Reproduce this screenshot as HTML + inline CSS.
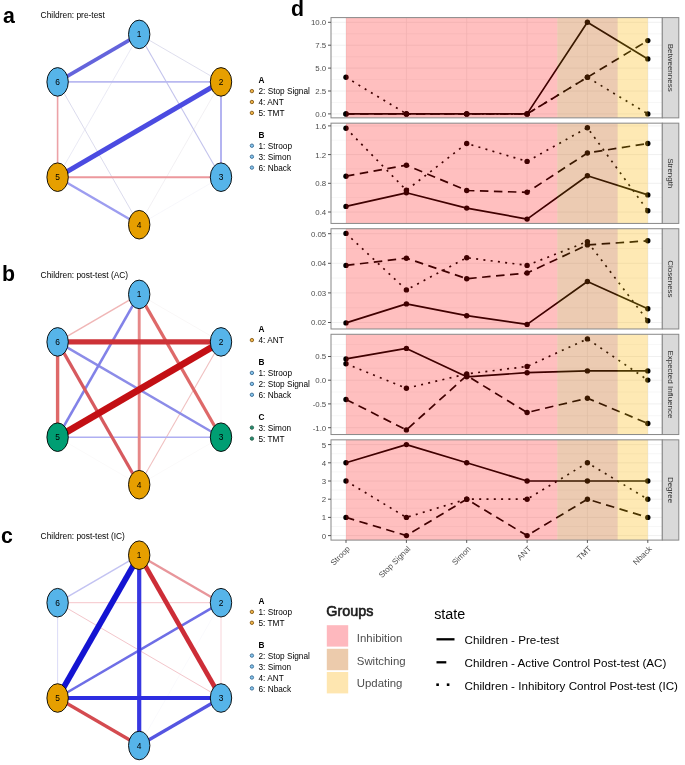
<!DOCTYPE html>
<html><head><meta charset="utf-8"><title>Figure</title>
<style>
html,body{margin:0;padding:0;background:#fff;}
body{width:685px;height:765px;overflow:hidden;}
svg{display:block;font-family:"Liberation Sans", sans-serif;will-change:transform;}
</style></head><body>
<svg width="685" height="765" viewBox="0 0 685 765">
<rect width="685" height="765" fill="#fff"/>
<text x="3.0" y="23.0" font-size="21.3" font-weight="bold" fill="#000">a</text>
<text x="40.6" y="17.7" font-size="8.4" fill="#000">Children: pre-test</text>
<line x1="221.0" y1="177.2" x2="139.2" y2="224.7" stroke="rgb(242,242,248)" stroke-width="0.6"/>
<line x1="221.0" y1="81.9" x2="139.2" y2="224.7" stroke="rgb(236,234,238)" stroke-width="0.7"/>
<line x1="139.2" y1="34.4" x2="57.6" y2="177.2" stroke="rgb(228,228,242)" stroke-width="0.8"/>
<line x1="139.2" y1="34.4" x2="221.0" y2="81.9" stroke="rgb(218,218,235)" stroke-width="0.9"/>
<line x1="57.6" y1="81.9" x2="139.2" y2="224.7" stroke="rgb(215,215,235)" stroke-width="0.9"/>
<line x1="139.2" y1="34.4" x2="221.0" y2="177.2" stroke="rgb(195,195,236)" stroke-width="1.1"/>
<line x1="57.6" y1="81.9" x2="221.0" y2="81.9" stroke="rgb(185,185,240)" stroke-width="1.6"/>
<line x1="57.6" y1="81.9" x2="57.6" y2="177.2" stroke="rgb(236,162,167)" stroke-width="1.6"/>
<line x1="221.0" y1="81.9" x2="221.0" y2="177.2" stroke="rgb(172,172,240)" stroke-width="1.8"/>
<line x1="57.6" y1="177.2" x2="221.0" y2="177.2" stroke="rgb(236,152,157)" stroke-width="2.1"/>
<line x1="57.6" y1="177.2" x2="139.2" y2="224.7" stroke="rgb(157,157,240)" stroke-width="2.4"/>
<line x1="139.2" y1="34.4" x2="57.6" y2="81.9" stroke="rgb(100,100,220)" stroke-width="3.7"/>
<line x1="221.0" y1="81.9" x2="57.6" y2="177.2" stroke="rgb(75,75,225)" stroke-width="5.0"/>
<ellipse cx="139.2" cy="34.4" rx="10.7" ry="14.3" fill="#56B4E9" stroke="#000" stroke-width="0.9"/>
<text x="139.2" y="37.4" font-size="8.4" text-anchor="middle" fill="#000">1</text>
<ellipse cx="221.0" cy="81.9" rx="10.7" ry="14.3" fill="#E69F00" stroke="#000" stroke-width="0.9"/>
<text x="221.0" y="84.9" font-size="8.4" text-anchor="middle" fill="#000">2</text>
<ellipse cx="221.0" cy="177.2" rx="10.7" ry="14.3" fill="#56B4E9" stroke="#000" stroke-width="0.9"/>
<text x="221.0" y="180.2" font-size="8.4" text-anchor="middle" fill="#000">3</text>
<ellipse cx="139.2" cy="224.7" rx="10.7" ry="14.3" fill="#E69F00" stroke="#000" stroke-width="0.9"/>
<text x="139.2" y="227.7" font-size="8.4" text-anchor="middle" fill="#000">4</text>
<ellipse cx="57.6" cy="177.2" rx="10.7" ry="14.3" fill="#E69F00" stroke="#000" stroke-width="0.9"/>
<text x="57.6" y="180.2" font-size="8.4" text-anchor="middle" fill="#000">5</text>
<ellipse cx="57.6" cy="81.9" rx="10.7" ry="14.3" fill="#56B4E9" stroke="#000" stroke-width="0.9"/>
<text x="57.6" y="84.9" font-size="8.4" text-anchor="middle" fill="#000">6</text>
<text x="258.5" y="83.3" font-size="8.25" font-weight="bold" fill="#000">A</text>
<circle cx="251.9" cy="91.1" r="1.7" fill="#f0b548" stroke="#8a5f1c" stroke-width="0.95"/>
<text x="258.5" y="94.3" font-size="8.25" fill="#000">2: Stop Signal</text>
<circle cx="251.9" cy="102.0" r="1.7" fill="#f0b548" stroke="#8a5f1c" stroke-width="0.95"/>
<text x="258.5" y="105.2" font-size="8.25" fill="#000">4: ANT</text>
<circle cx="251.9" cy="112.9" r="1.7" fill="#f0b548" stroke="#8a5f1c" stroke-width="0.95"/>
<text x="258.5" y="116.1" font-size="8.25" fill="#000">5: TMT</text>
<text x="258.5" y="138.0" font-size="8.25" font-weight="bold" fill="#000">B</text>
<circle cx="251.9" cy="145.7" r="1.7" fill="#86c6ee" stroke="#3f6f96" stroke-width="0.95"/>
<text x="258.5" y="148.9" font-size="8.25" fill="#000">1: Stroop</text>
<circle cx="251.9" cy="156.7" r="1.7" fill="#86c6ee" stroke="#3f6f96" stroke-width="0.95"/>
<text x="258.5" y="159.9" font-size="8.25" fill="#000">3: Simon</text>
<circle cx="251.9" cy="167.6" r="1.7" fill="#86c6ee" stroke="#3f6f96" stroke-width="0.95"/>
<text x="258.5" y="170.8" font-size="8.25" fill="#000">6: Nback</text>
<text x="1.9" y="281.0" font-size="21.3" font-weight="bold" fill="#000">b</text>
<text x="40.6" y="277.7" font-size="8.4" fill="#000">Children: post-test (AC)</text>
<line x1="139.2" y1="294.4" x2="221.0" y2="341.9" stroke="rgb(242,238,238)" stroke-width="0.5"/>
<line x1="221.0" y1="341.9" x2="221.0" y2="437.2" stroke="rgb(245,242,245)" stroke-width="0.5"/>
<line x1="57.6" y1="437.2" x2="139.2" y2="484.7" stroke="rgb(246,244,244)" stroke-width="0.5"/>
<line x1="221.0" y1="437.2" x2="139.2" y2="484.7" stroke="rgb(246,244,244)" stroke-width="0.5"/>
<line x1="221.0" y1="341.9" x2="139.2" y2="484.7" stroke="rgb(240,192,192)" stroke-width="1.1"/>
<line x1="139.2" y1="294.4" x2="57.6" y2="341.9" stroke="rgb(240,182,182)" stroke-width="1.5"/>
<line x1="57.6" y1="437.2" x2="221.0" y2="437.2" stroke="rgb(175,175,242)" stroke-width="1.6"/>
<line x1="57.6" y1="341.9" x2="221.0" y2="437.2" stroke="rgb(140,140,232)" stroke-width="2.4"/>
<line x1="139.2" y1="294.4" x2="57.6" y2="437.2" stroke="rgb(130,130,232)" stroke-width="2.6"/>
<line x1="139.2" y1="294.4" x2="139.2" y2="484.7" stroke="rgb(230,135,135)" stroke-width="2.9"/>
<line x1="139.2" y1="294.4" x2="221.0" y2="437.2" stroke="rgb(222,105,105)" stroke-width="3.2"/>
<line x1="57.6" y1="341.9" x2="139.2" y2="484.7" stroke="rgb(215,90,95)" stroke-width="3.2"/>
<line x1="57.6" y1="341.9" x2="57.6" y2="437.2" stroke="rgb(222,105,105)" stroke-width="3.4"/>
<line x1="57.6" y1="341.9" x2="221.0" y2="341.9" stroke="rgb(205,50,55)" stroke-width="5.3"/>
<line x1="221.0" y1="341.9" x2="57.6" y2="437.2" stroke="rgb(195,15,20)" stroke-width="6.8"/>
<ellipse cx="139.2" cy="294.4" rx="10.7" ry="14.3" fill="#56B4E9" stroke="#000" stroke-width="0.9"/>
<text x="139.2" y="297.4" font-size="8.4" text-anchor="middle" fill="#000">1</text>
<ellipse cx="221.0" cy="341.9" rx="10.7" ry="14.3" fill="#56B4E9" stroke="#000" stroke-width="0.9"/>
<text x="221.0" y="344.9" font-size="8.4" text-anchor="middle" fill="#000">2</text>
<ellipse cx="221.0" cy="437.2" rx="10.7" ry="14.3" fill="#009E73" stroke="#000" stroke-width="0.9"/>
<text x="221.0" y="440.2" font-size="8.4" text-anchor="middle" fill="#000">3</text>
<ellipse cx="139.2" cy="484.7" rx="10.7" ry="14.3" fill="#E69F00" stroke="#000" stroke-width="0.9"/>
<text x="139.2" y="487.7" font-size="8.4" text-anchor="middle" fill="#000">4</text>
<ellipse cx="57.6" cy="437.2" rx="10.7" ry="14.3" fill="#009E73" stroke="#000" stroke-width="0.9"/>
<text x="57.6" y="440.2" font-size="8.4" text-anchor="middle" fill="#000">5</text>
<ellipse cx="57.6" cy="341.9" rx="10.7" ry="14.3" fill="#56B4E9" stroke="#000" stroke-width="0.9"/>
<text x="57.6" y="344.9" font-size="8.4" text-anchor="middle" fill="#000">6</text>
<text x="258.5" y="332.4" font-size="8.25" font-weight="bold" fill="#000">A</text>
<circle cx="251.9" cy="340.1" r="1.7" fill="#f0b548" stroke="#8a5f1c" stroke-width="0.95"/>
<text x="258.5" y="343.3" font-size="8.25" fill="#000">4: ANT</text>
<text x="258.5" y="365.2" font-size="8.25" font-weight="bold" fill="#000">B</text>
<circle cx="251.9" cy="372.9" r="1.7" fill="#86c6ee" stroke="#3f6f96" stroke-width="0.95"/>
<text x="258.5" y="376.1" font-size="8.25" fill="#000">1: Stroop</text>
<circle cx="251.9" cy="383.9" r="1.7" fill="#86c6ee" stroke="#3f6f96" stroke-width="0.95"/>
<text x="258.5" y="387.1" font-size="8.25" fill="#000">2: Stop Signal</text>
<circle cx="251.9" cy="394.8" r="1.7" fill="#86c6ee" stroke="#3f6f96" stroke-width="0.95"/>
<text x="258.5" y="398.0" font-size="8.25" fill="#000">6: Nback</text>
<text x="258.5" y="419.9" font-size="8.25" font-weight="bold" fill="#000">C</text>
<circle cx="251.9" cy="427.6" r="1.7" fill="#1f9070" stroke="#2b5f4c" stroke-width="0.95"/>
<text x="258.5" y="430.8" font-size="8.25" fill="#000">3: Simon</text>
<circle cx="251.9" cy="438.6" r="1.7" fill="#1f9070" stroke="#2b5f4c" stroke-width="0.95"/>
<text x="258.5" y="441.8" font-size="8.25" fill="#000">5: TMT</text>
<text x="1.0" y="543.4" font-size="21.3" font-weight="bold" fill="#000">c</text>
<text x="40.6" y="538.5" font-size="8.4" fill="#000">Children: post-test (IC)</text>
<line x1="221.0" y1="602.7" x2="139.2" y2="745.5" stroke="rgb(245,245,250)" stroke-width="0.5"/>
<line x1="221.0" y1="602.7" x2="221.0" y2="698.0" stroke="rgb(247,208,214)" stroke-width="0.9"/>
<line x1="57.6" y1="602.7" x2="57.6" y2="698.0" stroke="rgb(216,216,246)" stroke-width="0.9"/>
<line x1="57.6" y1="602.7" x2="221.0" y2="602.7" stroke="rgb(246,198,203)" stroke-width="1.0"/>
<line x1="57.6" y1="602.7" x2="221.0" y2="698.0" stroke="rgb(243,198,203)" stroke-width="1.0"/>
<line x1="139.2" y1="555.2" x2="57.6" y2="602.7" stroke="rgb(195,195,242)" stroke-width="1.5"/>
<line x1="139.2" y1="555.2" x2="221.0" y2="602.7" stroke="rgb(232,150,155)" stroke-width="2.3"/>
<line x1="221.0" y1="602.7" x2="57.6" y2="698.0" stroke="rgb(110,110,230)" stroke-width="2.6"/>
<line x1="221.0" y1="698.0" x2="139.2" y2="745.5" stroke="rgb(85,85,225)" stroke-width="3.2"/>
<line x1="57.6" y1="698.0" x2="139.2" y2="745.5" stroke="rgb(212,75,80)" stroke-width="3.2"/>
<line x1="139.2" y1="555.2" x2="139.2" y2="745.5" stroke="rgb(55,55,225)" stroke-width="4.2"/>
<line x1="57.6" y1="698.0" x2="221.0" y2="698.0" stroke="rgb(45,45,225)" stroke-width="4.2"/>
<line x1="139.2" y1="555.2" x2="221.0" y2="698.0" stroke="rgb(205,45,55)" stroke-width="4.7"/>
<line x1="139.2" y1="555.2" x2="57.6" y2="698.0" stroke="rgb(20,20,210)" stroke-width="5.8"/>
<ellipse cx="139.2" cy="555.2" rx="10.7" ry="14.3" fill="#E69F00" stroke="#000" stroke-width="0.9"/>
<text x="139.2" y="558.2" font-size="8.4" text-anchor="middle" fill="#000">1</text>
<ellipse cx="221.0" cy="602.7" rx="10.7" ry="14.3" fill="#56B4E9" stroke="#000" stroke-width="0.9"/>
<text x="221.0" y="605.7" font-size="8.4" text-anchor="middle" fill="#000">2</text>
<ellipse cx="221.0" cy="698.0" rx="10.7" ry="14.3" fill="#56B4E9" stroke="#000" stroke-width="0.9"/>
<text x="221.0" y="701.0" font-size="8.4" text-anchor="middle" fill="#000">3</text>
<ellipse cx="139.2" cy="745.5" rx="10.7" ry="14.3" fill="#56B4E9" stroke="#000" stroke-width="0.9"/>
<text x="139.2" y="748.5" font-size="8.4" text-anchor="middle" fill="#000">4</text>
<ellipse cx="57.6" cy="698.0" rx="10.7" ry="14.3" fill="#E69F00" stroke="#000" stroke-width="0.9"/>
<text x="57.6" y="701.0" font-size="8.4" text-anchor="middle" fill="#000">5</text>
<ellipse cx="57.6" cy="602.7" rx="10.7" ry="14.3" fill="#56B4E9" stroke="#000" stroke-width="0.9"/>
<text x="57.6" y="605.7" font-size="8.4" text-anchor="middle" fill="#000">6</text>
<text x="258.5" y="604.0999999999999" font-size="8.25" font-weight="bold" fill="#000">A</text>
<circle cx="251.9" cy="611.9" r="1.7" fill="#f0b548" stroke="#8a5f1c" stroke-width="0.95"/>
<text x="258.5" y="615.0999999999999" font-size="8.25" fill="#000">1: Stroop</text>
<circle cx="251.9" cy="622.8" r="1.7" fill="#f0b548" stroke="#8a5f1c" stroke-width="0.95"/>
<text x="258.5" y="626.0" font-size="8.25" fill="#000">5: TMT</text>
<text x="258.5" y="647.9" font-size="8.25" font-weight="bold" fill="#000">B</text>
<circle cx="251.9" cy="655.6" r="1.7" fill="#86c6ee" stroke="#3f6f96" stroke-width="0.95"/>
<text x="258.5" y="658.8" font-size="8.25" fill="#000">2: Stop Signal</text>
<circle cx="251.9" cy="666.5" r="1.7" fill="#86c6ee" stroke="#3f6f96" stroke-width="0.95"/>
<text x="258.5" y="669.6999999999999" font-size="8.25" fill="#000">3: Simon</text>
<circle cx="251.9" cy="677.5" r="1.7" fill="#86c6ee" stroke="#3f6f96" stroke-width="0.95"/>
<text x="258.5" y="680.6999999999999" font-size="8.25" fill="#000">4: ANT</text>
<circle cx="251.9" cy="688.4" r="1.7" fill="#86c6ee" stroke="#3f6f96" stroke-width="0.95"/>
<text x="258.5" y="691.5999999999999" font-size="8.25" fill="#000">6: Nback</text>
<text x="290.9" y="16.2" font-size="21.3" font-weight="bold" fill="#000">d</text>
<clipPath id="cBet"><rect x="331.0" y="17.60" width="331.30" height="100.26"/></clipPath>
<g clip-path="url(#cBet)">
<line x1="331.0" x2="662.3" y1="33.8" y2="33.8" stroke="#EBEBEB" stroke-width="0.4"/>
<line x1="331.0" x2="662.3" y1="56.7" y2="56.7" stroke="#EBEBEB" stroke-width="0.4"/>
<line x1="331.0" x2="662.3" y1="79.6" y2="79.6" stroke="#EBEBEB" stroke-width="0.4"/>
<line x1="331.0" x2="662.3" y1="102.5" y2="102.5" stroke="#EBEBEB" stroke-width="0.4"/>
<line x1="331.0" x2="662.3" y1="22.3" y2="22.3" stroke="#EBEBEB" stroke-width="0.75"/>
<line x1="331.0" x2="662.3" y1="45.2" y2="45.2" stroke="#EBEBEB" stroke-width="0.75"/>
<line x1="331.0" x2="662.3" y1="68.1" y2="68.1" stroke="#EBEBEB" stroke-width="0.75"/>
<line x1="331.0" x2="662.3" y1="91.0" y2="91.0" stroke="#EBEBEB" stroke-width="0.75"/>
<line x1="331.0" x2="662.3" y1="113.9" y2="113.9" stroke="#EBEBEB" stroke-width="0.75"/>
<line x1="346.0" x2="346.0" y1="17.6" y2="117.9" stroke="#EBEBEB" stroke-width="0.75"/>
<line x1="406.4" x2="406.4" y1="17.6" y2="117.9" stroke="#EBEBEB" stroke-width="0.75"/>
<line x1="466.7" x2="466.7" y1="17.6" y2="117.9" stroke="#EBEBEB" stroke-width="0.75"/>
<line x1="527.1" x2="527.1" y1="17.6" y2="117.9" stroke="#EBEBEB" stroke-width="0.75"/>
<line x1="587.4" x2="587.4" y1="17.6" y2="117.9" stroke="#EBEBEB" stroke-width="0.75"/>
<line x1="647.8" x2="647.8" y1="17.6" y2="117.9" stroke="#EBEBEB" stroke-width="0.75"/>
<polyline points="346.0,113.9 406.4,113.9 466.7,113.9 527.1,113.9 587.4,22.3 647.8,58.9" fill="none" stroke="#000" stroke-width="1.7" stroke-linejoin="round"/>
<polyline points="346.0,113.9 406.4,113.9 466.7,113.9 527.1,113.9 587.4,77.3 647.8,40.6" fill="none" stroke="#000" stroke-width="1.7" stroke-dasharray="8.5 5.5" stroke-linejoin="round"/>
<polyline points="346.0,77.3 406.4,113.9 466.7,113.9 527.1,113.9 587.4,77.3 647.8,113.9" fill="none" stroke="#000" stroke-width="1.7" stroke-dasharray="2 5.3" stroke-linejoin="round"/>
</g>
<circle cx="346.0" cy="113.9" r="2.7" fill="#000"/>
<circle cx="406.4" cy="113.9" r="2.7" fill="#000"/>
<circle cx="466.7" cy="113.9" r="2.7" fill="#000"/>
<circle cx="527.1" cy="113.9" r="2.7" fill="#000"/>
<circle cx="587.4" cy="22.3" r="2.7" fill="#000"/>
<circle cx="647.8" cy="58.9" r="2.7" fill="#000"/>
<circle cx="346.0" cy="113.9" r="2.7" fill="#000"/>
<circle cx="406.4" cy="113.9" r="2.7" fill="#000"/>
<circle cx="466.7" cy="113.9" r="2.7" fill="#000"/>
<circle cx="527.1" cy="113.9" r="2.7" fill="#000"/>
<circle cx="587.4" cy="77.3" r="2.7" fill="#000"/>
<circle cx="647.8" cy="40.6" r="2.7" fill="#000"/>
<circle cx="346.0" cy="77.3" r="2.7" fill="#000"/>
<circle cx="406.4" cy="113.9" r="2.7" fill="#000"/>
<circle cx="466.7" cy="113.9" r="2.7" fill="#000"/>
<circle cx="527.1" cy="113.9" r="2.7" fill="#000"/>
<circle cx="587.4" cy="77.3" r="2.7" fill="#000"/>
<circle cx="647.8" cy="113.9" r="2.7" fill="#000"/>
<rect x="346.0" y="17.60" width="211.3" height="100.26" fill="rgba(255,0,0,0.25)"/>
<rect x="557.3" y="17.60" width="60.4" height="100.26" fill="rgba(192,82,0,0.30)"/>
<rect x="617.6" y="17.60" width="30.2" height="100.26" fill="rgba(252,182,5,0.30)"/>
<rect x="331.0" y="17.60" width="331.30" height="100.26" fill="none" stroke="#888" stroke-width="1"/>
<rect x="662.3" y="17.60" width="16.50" height="100.26" fill="#D9D9D9" stroke="#888" stroke-width="1"/>
<text transform="translate(667.5,67.7) rotate(90)" text-anchor="middle" font-size="8.0" fill="#333">Betweenness</text>
<line x1="328.0" x2="331.0" y1="22.3" y2="22.3" stroke="#555" stroke-width="1"/>
<text x="326.2" y="25.2" text-anchor="end" font-size="7.85" fill="#4D4D4D">10.0</text>
<line x1="328.0" x2="331.0" y1="45.2" y2="45.2" stroke="#555" stroke-width="1"/>
<text x="326.2" y="48.1" text-anchor="end" font-size="7.85" fill="#4D4D4D">7.5</text>
<line x1="328.0" x2="331.0" y1="68.1" y2="68.1" stroke="#555" stroke-width="1"/>
<text x="326.2" y="71.0" text-anchor="end" font-size="7.85" fill="#4D4D4D">5.0</text>
<line x1="328.0" x2="331.0" y1="91.0" y2="91.0" stroke="#555" stroke-width="1"/>
<text x="326.2" y="93.9" text-anchor="end" font-size="7.85" fill="#4D4D4D">2.5</text>
<line x1="328.0" x2="331.0" y1="113.9" y2="113.9" stroke="#555" stroke-width="1"/>
<text x="326.2" y="116.8" text-anchor="end" font-size="7.85" fill="#4D4D4D">0.0</text>
<clipPath id="cStr"><rect x="331.0" y="123.16" width="331.30" height="100.26"/></clipPath>
<g clip-path="url(#cStr)">
<line x1="331.0" x2="662.3" y1="140.2" y2="140.2" stroke="#EBEBEB" stroke-width="0.4"/>
<line x1="331.0" x2="662.3" y1="168.9" y2="168.9" stroke="#EBEBEB" stroke-width="0.4"/>
<line x1="331.0" x2="662.3" y1="197.6" y2="197.6" stroke="#EBEBEB" stroke-width="0.4"/>
<line x1="331.0" x2="662.3" y1="125.9" y2="125.9" stroke="#EBEBEB" stroke-width="0.75"/>
<line x1="331.0" x2="662.3" y1="154.6" y2="154.6" stroke="#EBEBEB" stroke-width="0.75"/>
<line x1="331.0" x2="662.3" y1="183.3" y2="183.3" stroke="#EBEBEB" stroke-width="0.75"/>
<line x1="331.0" x2="662.3" y1="212.0" y2="212.0" stroke="#EBEBEB" stroke-width="0.75"/>
<line x1="346.0" x2="346.0" y1="123.2" y2="223.4" stroke="#EBEBEB" stroke-width="0.75"/>
<line x1="406.4" x2="406.4" y1="123.2" y2="223.4" stroke="#EBEBEB" stroke-width="0.75"/>
<line x1="466.7" x2="466.7" y1="123.2" y2="223.4" stroke="#EBEBEB" stroke-width="0.75"/>
<line x1="527.1" x2="527.1" y1="123.2" y2="223.4" stroke="#EBEBEB" stroke-width="0.75"/>
<line x1="587.4" x2="587.4" y1="123.2" y2="223.4" stroke="#EBEBEB" stroke-width="0.75"/>
<line x1="647.8" x2="647.8" y1="123.2" y2="223.4" stroke="#EBEBEB" stroke-width="0.75"/>
<polyline points="346.0,206.4 406.4,192.8 466.7,208.1 527.1,219.1 587.4,175.7 647.8,194.9" fill="none" stroke="#000" stroke-width="1.7" stroke-linejoin="round"/>
<polyline points="346.0,176.2 406.4,165.2 466.7,190.5 527.1,192.3 587.4,153.0 647.8,143.5" fill="none" stroke="#000" stroke-width="1.7" stroke-dasharray="8.5 5.5" stroke-linejoin="round"/>
<polyline points="346.0,128.2 406.4,190.3 466.7,143.5 527.1,161.4 587.4,127.7 647.8,210.7" fill="none" stroke="#000" stroke-width="1.7" stroke-dasharray="2 5.3" stroke-linejoin="round"/>
</g>
<circle cx="346.0" cy="206.4" r="2.7" fill="#000"/>
<circle cx="406.4" cy="192.8" r="2.7" fill="#000"/>
<circle cx="466.7" cy="208.1" r="2.7" fill="#000"/>
<circle cx="527.1" cy="219.1" r="2.7" fill="#000"/>
<circle cx="587.4" cy="175.7" r="2.7" fill="#000"/>
<circle cx="647.8" cy="194.9" r="2.7" fill="#000"/>
<circle cx="346.0" cy="176.2" r="2.7" fill="#000"/>
<circle cx="406.4" cy="165.2" r="2.7" fill="#000"/>
<circle cx="466.7" cy="190.5" r="2.7" fill="#000"/>
<circle cx="527.1" cy="192.3" r="2.7" fill="#000"/>
<circle cx="587.4" cy="153.0" r="2.7" fill="#000"/>
<circle cx="647.8" cy="143.5" r="2.7" fill="#000"/>
<circle cx="346.0" cy="128.2" r="2.7" fill="#000"/>
<circle cx="406.4" cy="190.3" r="2.7" fill="#000"/>
<circle cx="466.7" cy="143.5" r="2.7" fill="#000"/>
<circle cx="527.1" cy="161.4" r="2.7" fill="#000"/>
<circle cx="587.4" cy="127.7" r="2.7" fill="#000"/>
<circle cx="647.8" cy="210.7" r="2.7" fill="#000"/>
<rect x="346.0" y="123.16" width="211.3" height="100.26" fill="rgba(255,0,0,0.25)"/>
<rect x="557.3" y="123.16" width="60.4" height="100.26" fill="rgba(192,82,0,0.30)"/>
<rect x="617.6" y="123.16" width="30.2" height="100.26" fill="rgba(252,182,5,0.30)"/>
<rect x="331.0" y="123.16" width="331.30" height="100.26" fill="none" stroke="#888" stroke-width="1"/>
<rect x="662.3" y="123.16" width="16.50" height="100.26" fill="#D9D9D9" stroke="#888" stroke-width="1"/>
<text transform="translate(667.5,173.3) rotate(90)" text-anchor="middle" font-size="8.0" fill="#333">Strength</text>
<line x1="328.0" x2="331.0" y1="125.9" y2="125.9" stroke="#555" stroke-width="1"/>
<text x="326.2" y="128.8" text-anchor="end" font-size="7.85" fill="#4D4D4D">1.6</text>
<line x1="328.0" x2="331.0" y1="154.6" y2="154.6" stroke="#555" stroke-width="1"/>
<text x="326.2" y="157.5" text-anchor="end" font-size="7.85" fill="#4D4D4D">1.2</text>
<line x1="328.0" x2="331.0" y1="183.3" y2="183.3" stroke="#555" stroke-width="1"/>
<text x="326.2" y="186.2" text-anchor="end" font-size="7.85" fill="#4D4D4D">0.8</text>
<line x1="328.0" x2="331.0" y1="212.0" y2="212.0" stroke="#555" stroke-width="1"/>
<text x="326.2" y="214.9" text-anchor="end" font-size="7.85" fill="#4D4D4D">0.4</text>
<clipPath id="cClo"><rect x="331.0" y="228.72" width="331.30" height="100.26"/></clipPath>
<g clip-path="url(#cClo)">
<line x1="331.0" x2="662.3" y1="248.5" y2="248.5" stroke="#EBEBEB" stroke-width="0.4"/>
<line x1="331.0" x2="662.3" y1="278.1" y2="278.1" stroke="#EBEBEB" stroke-width="0.4"/>
<line x1="331.0" x2="662.3" y1="307.7" y2="307.7" stroke="#EBEBEB" stroke-width="0.4"/>
<line x1="331.0" x2="662.3" y1="233.7" y2="233.7" stroke="#EBEBEB" stroke-width="0.75"/>
<line x1="331.0" x2="662.3" y1="263.3" y2="263.3" stroke="#EBEBEB" stroke-width="0.75"/>
<line x1="331.0" x2="662.3" y1="292.9" y2="292.9" stroke="#EBEBEB" stroke-width="0.75"/>
<line x1="331.0" x2="662.3" y1="322.5" y2="322.5" stroke="#EBEBEB" stroke-width="0.75"/>
<line x1="346.0" x2="346.0" y1="228.7" y2="329.0" stroke="#EBEBEB" stroke-width="0.75"/>
<line x1="406.4" x2="406.4" y1="228.7" y2="329.0" stroke="#EBEBEB" stroke-width="0.75"/>
<line x1="466.7" x2="466.7" y1="228.7" y2="329.0" stroke="#EBEBEB" stroke-width="0.75"/>
<line x1="527.1" x2="527.1" y1="228.7" y2="329.0" stroke="#EBEBEB" stroke-width="0.75"/>
<line x1="587.4" x2="587.4" y1="228.7" y2="329.0" stroke="#EBEBEB" stroke-width="0.75"/>
<line x1="647.8" x2="647.8" y1="228.7" y2="329.0" stroke="#EBEBEB" stroke-width="0.75"/>
<polyline points="346.0,322.9 406.4,303.9 466.7,315.7 527.1,324.4 587.4,281.5 647.8,308.8" fill="none" stroke="#000" stroke-width="1.7" stroke-linejoin="round"/>
<polyline points="346.0,265.4 406.4,258.2 466.7,278.7 527.1,273.0 587.4,244.9 647.8,240.8" fill="none" stroke="#000" stroke-width="1.7" stroke-dasharray="8.5 5.5" stroke-linejoin="round"/>
<polyline points="346.0,233.4 406.4,289.9 466.7,257.7 527.1,265.4 587.4,241.6 647.8,320.8" fill="none" stroke="#000" stroke-width="1.7" stroke-dasharray="2 5.3" stroke-linejoin="round"/>
</g>
<circle cx="346.0" cy="322.9" r="2.7" fill="#000"/>
<circle cx="406.4" cy="303.9" r="2.7" fill="#000"/>
<circle cx="466.7" cy="315.7" r="2.7" fill="#000"/>
<circle cx="527.1" cy="324.4" r="2.7" fill="#000"/>
<circle cx="587.4" cy="281.5" r="2.7" fill="#000"/>
<circle cx="647.8" cy="308.8" r="2.7" fill="#000"/>
<circle cx="346.0" cy="265.4" r="2.7" fill="#000"/>
<circle cx="406.4" cy="258.2" r="2.7" fill="#000"/>
<circle cx="466.7" cy="278.7" r="2.7" fill="#000"/>
<circle cx="527.1" cy="273.0" r="2.7" fill="#000"/>
<circle cx="587.4" cy="244.9" r="2.7" fill="#000"/>
<circle cx="647.8" cy="240.8" r="2.7" fill="#000"/>
<circle cx="346.0" cy="233.4" r="2.7" fill="#000"/>
<circle cx="406.4" cy="289.9" r="2.7" fill="#000"/>
<circle cx="466.7" cy="257.7" r="2.7" fill="#000"/>
<circle cx="527.1" cy="265.4" r="2.7" fill="#000"/>
<circle cx="587.4" cy="241.6" r="2.7" fill="#000"/>
<circle cx="647.8" cy="320.8" r="2.7" fill="#000"/>
<rect x="346.0" y="228.72" width="211.3" height="100.26" fill="rgba(255,0,0,0.25)"/>
<rect x="557.3" y="228.72" width="60.4" height="100.26" fill="rgba(192,82,0,0.30)"/>
<rect x="617.6" y="228.72" width="30.2" height="100.26" fill="rgba(252,182,5,0.30)"/>
<rect x="331.0" y="228.72" width="331.30" height="100.26" fill="none" stroke="#888" stroke-width="1"/>
<rect x="662.3" y="228.72" width="16.50" height="100.26" fill="#D9D9D9" stroke="#888" stroke-width="1"/>
<text transform="translate(667.5,278.9) rotate(90)" text-anchor="middle" font-size="8.0" fill="#333">Closeness</text>
<line x1="328.0" x2="331.0" y1="233.7" y2="233.7" stroke="#555" stroke-width="1"/>
<text x="326.2" y="236.6" text-anchor="end" font-size="7.85" fill="#4D4D4D">0.05</text>
<line x1="328.0" x2="331.0" y1="263.3" y2="263.3" stroke="#555" stroke-width="1"/>
<text x="326.2" y="266.2" text-anchor="end" font-size="7.85" fill="#4D4D4D">0.04</text>
<line x1="328.0" x2="331.0" y1="292.9" y2="292.9" stroke="#555" stroke-width="1"/>
<text x="326.2" y="295.8" text-anchor="end" font-size="7.85" fill="#4D4D4D">0.03</text>
<line x1="328.0" x2="331.0" y1="322.5" y2="322.5" stroke="#555" stroke-width="1"/>
<text x="326.2" y="325.4" text-anchor="end" font-size="7.85" fill="#4D4D4D">0.02</text>
<clipPath id="cExp"><rect x="331.0" y="334.28" width="331.30" height="100.26"/></clipPath>
<g clip-path="url(#cExp)">
<line x1="331.0" x2="662.3" y1="344.6" y2="344.6" stroke="#EBEBEB" stroke-width="0.4"/>
<line x1="331.0" x2="662.3" y1="368.3" y2="368.3" stroke="#EBEBEB" stroke-width="0.4"/>
<line x1="331.0" x2="662.3" y1="392.0" y2="392.0" stroke="#EBEBEB" stroke-width="0.4"/>
<line x1="331.0" x2="662.3" y1="415.7" y2="415.7" stroke="#EBEBEB" stroke-width="0.4"/>
<line x1="331.0" x2="662.3" y1="356.5" y2="356.5" stroke="#EBEBEB" stroke-width="0.75"/>
<line x1="331.0" x2="662.3" y1="380.2" y2="380.2" stroke="#EBEBEB" stroke-width="0.75"/>
<line x1="331.0" x2="662.3" y1="403.9" y2="403.9" stroke="#EBEBEB" stroke-width="0.75"/>
<line x1="331.0" x2="662.3" y1="427.7" y2="427.7" stroke="#EBEBEB" stroke-width="0.75"/>
<line x1="346.0" x2="346.0" y1="334.3" y2="434.5" stroke="#EBEBEB" stroke-width="0.75"/>
<line x1="406.4" x2="406.4" y1="334.3" y2="434.5" stroke="#EBEBEB" stroke-width="0.75"/>
<line x1="466.7" x2="466.7" y1="334.3" y2="434.5" stroke="#EBEBEB" stroke-width="0.75"/>
<line x1="527.1" x2="527.1" y1="334.3" y2="434.5" stroke="#EBEBEB" stroke-width="0.75"/>
<line x1="587.4" x2="587.4" y1="334.3" y2="434.5" stroke="#EBEBEB" stroke-width="0.75"/>
<line x1="647.8" x2="647.8" y1="334.3" y2="434.5" stroke="#EBEBEB" stroke-width="0.75"/>
<polyline points="346.0,358.9 406.4,348.4 466.7,376.8 527.1,372.7 587.4,370.9 647.8,370.9" fill="none" stroke="#000" stroke-width="1.7" stroke-linejoin="round"/>
<polyline points="346.0,399.5 406.4,429.9 466.7,375.6 527.1,412.5 587.4,398.2 647.8,423.5" fill="none" stroke="#000" stroke-width="1.7" stroke-dasharray="8.5 5.5" stroke-linejoin="round"/>
<polyline points="346.0,363.7 406.4,388.3 466.7,373.9 527.1,366.5 587.4,338.9 647.8,380.1" fill="none" stroke="#000" stroke-width="1.7" stroke-dasharray="2 5.3" stroke-linejoin="round"/>
</g>
<circle cx="346.0" cy="358.9" r="2.7" fill="#000"/>
<circle cx="406.4" cy="348.4" r="2.7" fill="#000"/>
<circle cx="466.7" cy="376.8" r="2.7" fill="#000"/>
<circle cx="527.1" cy="372.7" r="2.7" fill="#000"/>
<circle cx="587.4" cy="370.9" r="2.7" fill="#000"/>
<circle cx="647.8" cy="370.9" r="2.7" fill="#000"/>
<circle cx="346.0" cy="399.5" r="2.7" fill="#000"/>
<circle cx="406.4" cy="429.9" r="2.7" fill="#000"/>
<circle cx="466.7" cy="375.6" r="2.7" fill="#000"/>
<circle cx="527.1" cy="412.5" r="2.7" fill="#000"/>
<circle cx="587.4" cy="398.2" r="2.7" fill="#000"/>
<circle cx="647.8" cy="423.5" r="2.7" fill="#000"/>
<circle cx="346.0" cy="363.7" r="2.7" fill="#000"/>
<circle cx="406.4" cy="388.3" r="2.7" fill="#000"/>
<circle cx="466.7" cy="373.9" r="2.7" fill="#000"/>
<circle cx="527.1" cy="366.5" r="2.7" fill="#000"/>
<circle cx="587.4" cy="338.9" r="2.7" fill="#000"/>
<circle cx="647.8" cy="380.1" r="2.7" fill="#000"/>
<rect x="346.0" y="334.28" width="211.3" height="100.26" fill="rgba(255,0,0,0.25)"/>
<rect x="557.3" y="334.28" width="60.4" height="100.26" fill="rgba(192,82,0,0.30)"/>
<rect x="617.6" y="334.28" width="30.2" height="100.26" fill="rgba(252,182,5,0.30)"/>
<rect x="331.0" y="334.28" width="331.30" height="100.26" fill="none" stroke="#888" stroke-width="1"/>
<rect x="662.3" y="334.28" width="16.50" height="100.26" fill="#D9D9D9" stroke="#888" stroke-width="1"/>
<text transform="translate(667.5,384.4) rotate(90)" text-anchor="middle" font-size="8.0" fill="#333">Expected Influence</text>
<line x1="328.0" x2="331.0" y1="356.5" y2="356.5" stroke="#555" stroke-width="1"/>
<text x="326.2" y="359.4" text-anchor="end" font-size="7.85" fill="#4D4D4D">0.5</text>
<line x1="328.0" x2="331.0" y1="380.2" y2="380.2" stroke="#555" stroke-width="1"/>
<text x="326.2" y="383.1" text-anchor="end" font-size="7.85" fill="#4D4D4D">0.0</text>
<line x1="328.0" x2="331.0" y1="403.9" y2="403.9" stroke="#555" stroke-width="1"/>
<text x="326.2" y="406.8" text-anchor="end" font-size="7.85" fill="#4D4D4D">-0.5</text>
<line x1="328.0" x2="331.0" y1="427.7" y2="427.7" stroke="#555" stroke-width="1"/>
<text x="326.2" y="430.6" text-anchor="end" font-size="7.85" fill="#4D4D4D">-1.0</text>
<clipPath id="cDeg"><rect x="331.0" y="439.84" width="331.30" height="100.26"/></clipPath>
<g clip-path="url(#cDeg)">
<line x1="331.0" x2="662.3" y1="453.7" y2="453.7" stroke="#EBEBEB" stroke-width="0.4"/>
<line x1="331.0" x2="662.3" y1="471.9" y2="471.9" stroke="#EBEBEB" stroke-width="0.4"/>
<line x1="331.0" x2="662.3" y1="490.1" y2="490.1" stroke="#EBEBEB" stroke-width="0.4"/>
<line x1="331.0" x2="662.3" y1="508.3" y2="508.3" stroke="#EBEBEB" stroke-width="0.4"/>
<line x1="331.0" x2="662.3" y1="526.5" y2="526.5" stroke="#EBEBEB" stroke-width="0.4"/>
<line x1="331.0" x2="662.3" y1="444.6" y2="444.6" stroke="#EBEBEB" stroke-width="0.75"/>
<line x1="331.0" x2="662.3" y1="462.8" y2="462.8" stroke="#EBEBEB" stroke-width="0.75"/>
<line x1="331.0" x2="662.3" y1="481.0" y2="481.0" stroke="#EBEBEB" stroke-width="0.75"/>
<line x1="331.0" x2="662.3" y1="499.2" y2="499.2" stroke="#EBEBEB" stroke-width="0.75"/>
<line x1="331.0" x2="662.3" y1="517.4" y2="517.4" stroke="#EBEBEB" stroke-width="0.75"/>
<line x1="331.0" x2="662.3" y1="535.6" y2="535.6" stroke="#EBEBEB" stroke-width="0.75"/>
<line x1="346.0" x2="346.0" y1="439.8" y2="540.1" stroke="#EBEBEB" stroke-width="0.75"/>
<line x1="406.4" x2="406.4" y1="439.8" y2="540.1" stroke="#EBEBEB" stroke-width="0.75"/>
<line x1="466.7" x2="466.7" y1="439.8" y2="540.1" stroke="#EBEBEB" stroke-width="0.75"/>
<line x1="527.1" x2="527.1" y1="439.8" y2="540.1" stroke="#EBEBEB" stroke-width="0.75"/>
<line x1="587.4" x2="587.4" y1="439.8" y2="540.1" stroke="#EBEBEB" stroke-width="0.75"/>
<line x1="647.8" x2="647.8" y1="439.8" y2="540.1" stroke="#EBEBEB" stroke-width="0.75"/>
<polyline points="346.0,462.8 406.4,444.6 466.7,462.8 527.1,481.0 587.4,481.0 647.8,481.0" fill="none" stroke="#000" stroke-width="1.7" stroke-linejoin="round"/>
<polyline points="346.0,517.4 406.4,535.6 466.7,499.2 527.1,535.6 587.4,499.2 647.8,517.4" fill="none" stroke="#000" stroke-width="1.7" stroke-dasharray="8.5 5.5" stroke-linejoin="round"/>
<polyline points="346.0,481.0 406.4,517.4 466.7,499.2 527.1,499.2 587.4,462.8 647.8,499.2" fill="none" stroke="#000" stroke-width="1.7" stroke-dasharray="2 5.3" stroke-linejoin="round"/>
</g>
<circle cx="346.0" cy="462.8" r="2.7" fill="#000"/>
<circle cx="406.4" cy="444.6" r="2.7" fill="#000"/>
<circle cx="466.7" cy="462.8" r="2.7" fill="#000"/>
<circle cx="527.1" cy="481.0" r="2.7" fill="#000"/>
<circle cx="587.4" cy="481.0" r="2.7" fill="#000"/>
<circle cx="647.8" cy="481.0" r="2.7" fill="#000"/>
<circle cx="346.0" cy="517.4" r="2.7" fill="#000"/>
<circle cx="406.4" cy="535.6" r="2.7" fill="#000"/>
<circle cx="466.7" cy="499.2" r="2.7" fill="#000"/>
<circle cx="527.1" cy="535.6" r="2.7" fill="#000"/>
<circle cx="587.4" cy="499.2" r="2.7" fill="#000"/>
<circle cx="647.8" cy="517.4" r="2.7" fill="#000"/>
<circle cx="346.0" cy="481.0" r="2.7" fill="#000"/>
<circle cx="406.4" cy="517.4" r="2.7" fill="#000"/>
<circle cx="466.7" cy="499.2" r="2.7" fill="#000"/>
<circle cx="527.1" cy="499.2" r="2.7" fill="#000"/>
<circle cx="587.4" cy="462.8" r="2.7" fill="#000"/>
<circle cx="647.8" cy="499.2" r="2.7" fill="#000"/>
<rect x="346.0" y="439.84" width="211.3" height="100.26" fill="rgba(255,0,0,0.25)"/>
<rect x="557.3" y="439.84" width="60.4" height="100.26" fill="rgba(192,82,0,0.30)"/>
<rect x="617.6" y="439.84" width="30.2" height="100.26" fill="rgba(252,182,5,0.30)"/>
<rect x="331.0" y="439.84" width="331.30" height="100.26" fill="none" stroke="#888" stroke-width="1"/>
<rect x="662.3" y="439.84" width="16.50" height="100.26" fill="#D9D9D9" stroke="#888" stroke-width="1"/>
<text transform="translate(667.5,490.0) rotate(90)" text-anchor="middle" font-size="8.0" fill="#333">Degree</text>
<line x1="328.0" x2="331.0" y1="444.6" y2="444.6" stroke="#555" stroke-width="1"/>
<text x="326.2" y="447.5" text-anchor="end" font-size="7.85" fill="#4D4D4D">5</text>
<line x1="328.0" x2="331.0" y1="462.8" y2="462.8" stroke="#555" stroke-width="1"/>
<text x="326.2" y="465.7" text-anchor="end" font-size="7.85" fill="#4D4D4D">4</text>
<line x1="328.0" x2="331.0" y1="481.0" y2="481.0" stroke="#555" stroke-width="1"/>
<text x="326.2" y="483.9" text-anchor="end" font-size="7.85" fill="#4D4D4D">3</text>
<line x1="328.0" x2="331.0" y1="499.2" y2="499.2" stroke="#555" stroke-width="1"/>
<text x="326.2" y="502.1" text-anchor="end" font-size="7.85" fill="#4D4D4D">2</text>
<line x1="328.0" x2="331.0" y1="517.4" y2="517.4" stroke="#555" stroke-width="1"/>
<text x="326.2" y="520.3" text-anchor="end" font-size="7.85" fill="#4D4D4D">1</text>
<line x1="328.0" x2="331.0" y1="535.6" y2="535.6" stroke="#555" stroke-width="1"/>
<text x="326.2" y="538.5" text-anchor="end" font-size="7.85" fill="#4D4D4D">0</text>
<line x1="346.0" x2="346.0" y1="540.1" y2="542.9" stroke="#555" stroke-width="1"/>
<text transform="translate(350.5,549.4) rotate(-45)" text-anchor="end" font-size="8" fill="#4D4D4D">Stroop</text>
<line x1="406.4" x2="406.4" y1="540.1" y2="542.9" stroke="#555" stroke-width="1"/>
<text transform="translate(410.9,549.4) rotate(-45)" text-anchor="end" font-size="8" fill="#4D4D4D">Stop Signal</text>
<line x1="466.7" x2="466.7" y1="540.1" y2="542.9" stroke="#555" stroke-width="1"/>
<text transform="translate(471.2,549.4) rotate(-45)" text-anchor="end" font-size="8" fill="#4D4D4D">Simon</text>
<line x1="527.1" x2="527.1" y1="540.1" y2="542.9" stroke="#555" stroke-width="1"/>
<text transform="translate(531.6,549.4) rotate(-45)" text-anchor="end" font-size="8" fill="#4D4D4D">ANT</text>
<line x1="587.4" x2="587.4" y1="540.1" y2="542.9" stroke="#555" stroke-width="1"/>
<text transform="translate(591.9,549.4) rotate(-45)" text-anchor="end" font-size="8" fill="#4D4D4D">TMT</text>
<line x1="647.8" x2="647.8" y1="540.1" y2="542.9" stroke="#555" stroke-width="1"/>
<text transform="translate(652.3,549.4) rotate(-45)" text-anchor="end" font-size="8" fill="#4D4D4D">Nback</text>
<text x="326.3" y="615.6" font-size="14.35" fill="#1c1c1c" stroke="#1c1c1c" stroke-width="0.6">Groups</text>
<rect x="326.8" y="625.2" width="21.4" height="21.4" fill="rgb(254,184,190)"/>
<text x="356.8" y="642.3" font-size="11.4" fill="#4D4D4D">Inhibition</text>
<rect x="326.8" y="648.8" width="21.4" height="21.4" fill="rgb(236,203,172)"/>
<text x="356.8" y="664.6" font-size="11.4" fill="#4D4D4D">Switching</text>
<rect x="326.8" y="672.0" width="21.4" height="21.4" fill="rgb(254,230,176)"/>
<text x="356.8" y="687.1" font-size="11.4" fill="#4D4D4D">Updating</text>
<text x="434.2" y="619.0" font-size="14.35" fill="#000">state</text>
<line x1="436.5" x2="454.5" y1="639.3" y2="639.3" stroke="#000" stroke-width="2.3"/>
<text x="464.5" y="644.1" font-size="11.65" fill="#000">Children - Pre-test</text>
<line x1="436.5" x2="446.3" y1="662.3" y2="662.3" stroke="#000" stroke-width="2.3"/>
<text x="464.5" y="667.1" font-size="11.65" fill="#000">Children - Active Control Post-test (AC)</text>
<rect x="436.3" y="683.4" width="2.6" height="2.6" fill="#000"/>
<rect x="446.8" y="683.4" width="2.6" height="2.6" fill="#000"/>
<text x="464.5" y="690.1" font-size="11.65" fill="#000">Children - Inhibitory Control Post-test (IC)</text>
</svg>
</body></html>
